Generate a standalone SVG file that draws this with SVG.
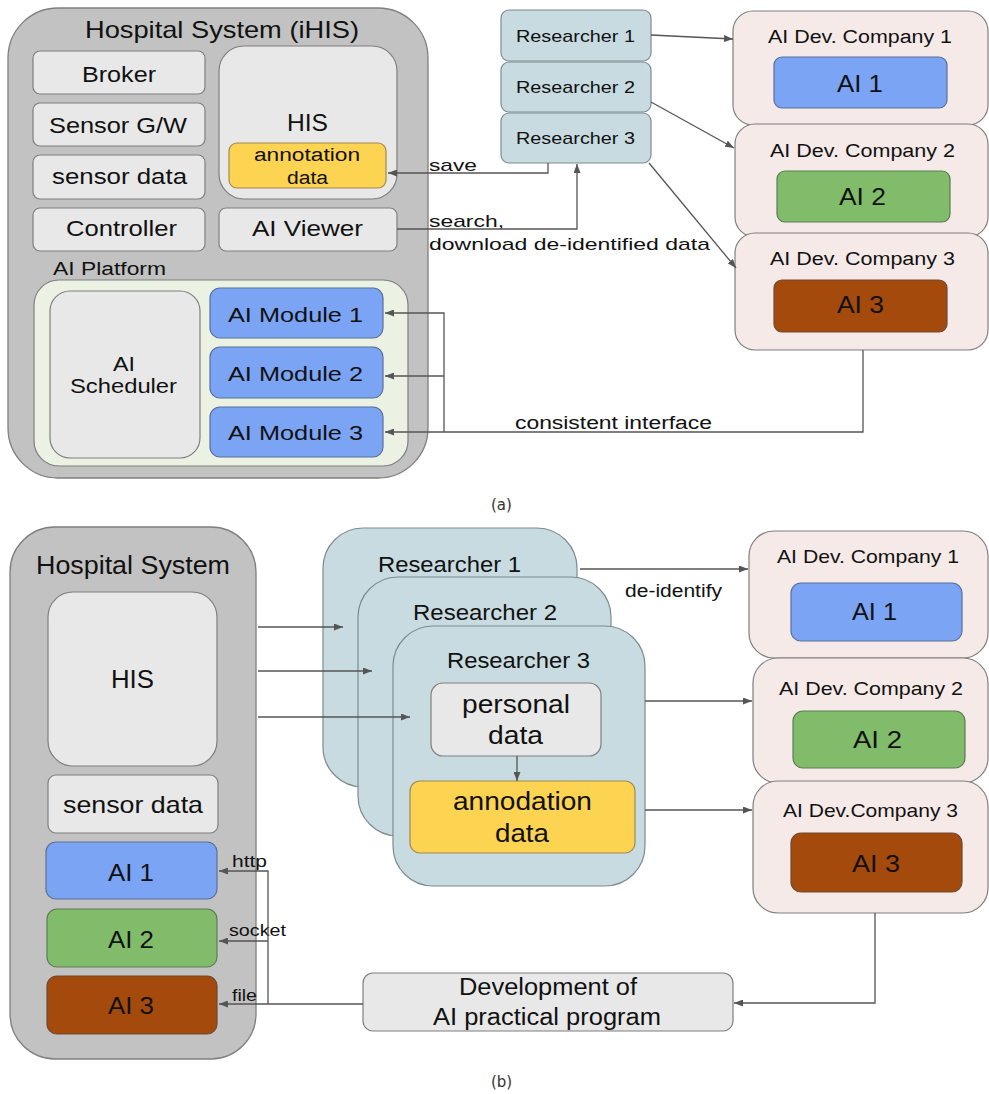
<svg xmlns="http://www.w3.org/2000/svg" width="989" height="1094" viewBox="0 0 989 1094">
<style>
.hs{fill:#c2c2c2;stroke:#7f7f7f;stroke-width:1.3}
.lt{fill:#e8e8e8;stroke:#7f7f7f;stroke-width:1.2}
.blue{fill:#7ba4f4;stroke:#5a6f9a;stroke-width:1.2}
.green{fill:#80bc6a;stroke:#5f7a55;stroke-width:1.2}
.brown{fill:#a34a0c;stroke:#6e4a30;stroke-width:1.2}
.yellow{fill:#fdd352;stroke:#a08a50;stroke-width:1.2}
.res{fill:#c8dbe0;stroke:#7d8b90;stroke-width:1.2}
.co{fill:#f5eae8;stroke:#7f7f7f;stroke-width:1.2}
.plat{fill:#ebf2e3;stroke:#7f7f7f;stroke-width:1.2}
text{font-family:"Liberation Sans",Arial,sans-serif;fill:#111}
.cap{font-family:"DejaVu Sans",sans-serif;font-size:15px;fill:#333}
.conn path{fill:none;stroke:#555;stroke-width:1.3}
</style>
<defs>
<marker id="ah" markerUnits="userSpaceOnUse" markerWidth="9" markerHeight="7" refX="9" refY="3.5" orient="auto">
<path d="M0,0 L9,3.5 L0,7 z" fill="#555"/>
</marker>
</defs>

<!-- (a) -->
<g id="a-hospital">
<rect class="hs" x="8" y="8" width="420" height="470" rx="50"/>
<text x="85" y="38" font-size="24" textLength="274" lengthAdjust="spacingAndGlyphs">Hospital System (iHIS)</text>
</g>
<g id="a-broker"><rect class="lt" x="33" y="51" width="172" height="43" rx="7"/><text x="82" y="82" font-size="22" textLength="74" lengthAdjust="spacingAndGlyphs">Broker</text></g>
<g id="a-sensorgw"><rect class="lt" x="33" y="103" width="172" height="43" rx="7"/><text x="49" y="133" font-size="22" textLength="138" lengthAdjust="spacingAndGlyphs">Sensor G/W</text></g>
<g id="a-sensordata"><rect class="lt" x="33" y="155" width="172" height="44" rx="7"/><text x="52" y="184" font-size="22" textLength="135" lengthAdjust="spacingAndGlyphs">sensor data</text></g>
<g id="a-controller"><rect class="lt" x="33" y="208" width="172" height="43" rx="7"/><text x="66" y="236" font-size="22" textLength="111" lengthAdjust="spacingAndGlyphs">Controller</text></g>
<g id="a-his"><rect class="lt" x="219" y="46" width="178" height="153" rx="25"/><text x="287" y="131" font-size="24" textLength="41" lengthAdjust="spacingAndGlyphs">HIS</text></g>
<g id="a-annotation"><rect class="yellow" x="229" y="143" width="157" height="45" rx="8"/><text x="254" y="161" font-size="18" textLength="106" lengthAdjust="spacingAndGlyphs">annotation</text><text x="287" y="184" font-size="18" textLength="41" lengthAdjust="spacingAndGlyphs">data</text></g>
<g id="a-viewer"><rect class="lt" x="219" y="208" width="178" height="43" rx="7"/><text x="252" y="236" font-size="22" textLength="111" lengthAdjust="spacingAndGlyphs">AI Viewer</text></g>
<g id="a-platform"><text x="53" y="275" font-size="18" textLength="113" lengthAdjust="spacingAndGlyphs">AI Platform</text><rect class="plat" x="34" y="280" width="374" height="186" rx="25"/></g>
<g id="a-scheduler"><rect class="lt" x="50" y="291" width="150" height="167" rx="20"/><text x="113" y="371" font-size="21" textLength="22" lengthAdjust="spacingAndGlyphs">AI</text><text x="70" y="393" font-size="21" textLength="107" lengthAdjust="spacingAndGlyphs">Scheduler</text></g>
<g id="a-module1"><rect class="blue" x="210" y="288" width="173" height="50" rx="10"/><text x="228" y="322" font-size="21" textLength="135" lengthAdjust="spacingAndGlyphs">AI Module 1</text></g>
<g id="a-module2"><rect class="blue" x="210" y="347" width="173" height="51" rx="10"/><text x="228" y="381" font-size="21" textLength="135" lengthAdjust="spacingAndGlyphs">AI Module 2</text></g>
<g id="a-module3"><rect class="blue" x="210" y="407" width="173" height="50" rx="10"/><text x="228" y="440" font-size="21" textLength="135" lengthAdjust="spacingAndGlyphs">AI Module 3</text></g>
<g id="a-res1"><rect class="res" x="501" y="10" width="150" height="51" rx="8"/><text x="516" y="42" font-size="17" textLength="119" lengthAdjust="spacingAndGlyphs">Researcher 1</text></g>
<g id="a-res2"><rect class="res" x="501" y="62" width="150" height="50" rx="8"/><text x="516" y="93" font-size="17" textLength="119" lengthAdjust="spacingAndGlyphs">Researcher 2</text></g>
<g id="a-res3"><rect class="res" x="501" y="113" width="150" height="50" rx="8"/><text x="516" y="144" font-size="17" textLength="119" lengthAdjust="spacingAndGlyphs">Researcher 3</text></g>
<g id="a-co1"><rect class="co" x="733" y="11" width="255" height="114" rx="20"/><text x="768" y="43" font-size="18" textLength="184" lengthAdjust="spacingAndGlyphs">AI Dev. Company 1</text><rect class="blue" x="774" y="57" width="173" height="51" rx="8"/><text x="837" y="92" font-size="24" textLength="46" lengthAdjust="spacingAndGlyphs">AI 1</text></g>
<g id="a-co2"><rect class="co" x="735" y="124" width="253" height="113" rx="20"/><text x="770" y="157" font-size="18" textLength="185" lengthAdjust="spacingAndGlyphs">AI Dev. Company 2</text><rect class="green" x="777" y="171" width="173" height="51" rx="8"/><text x="839" y="205" font-size="24" textLength="47" lengthAdjust="spacingAndGlyphs">AI 2</text></g>
<g id="a-co3"><rect class="co" x="735" y="233" width="253" height="117" rx="20"/><text x="770" y="265" font-size="18" textLength="185" lengthAdjust="spacingAndGlyphs">AI Dev. Company 3</text><rect class="brown" x="774" y="280" width="173" height="52" rx="8"/><text x="837" y="313" font-size="24" textLength="47" lengthAdjust="spacingAndGlyphs">AI 3</text></g>
<g id="a-labels">
<text x="429" y="171" font-size="17" textLength="48" lengthAdjust="spacingAndGlyphs">save</text>
<text x="429" y="227" font-size="17" textLength="75" lengthAdjust="spacingAndGlyphs">search,</text>
<text x="429" y="250" font-size="17" textLength="281" lengthAdjust="spacingAndGlyphs">download de-identified data</text>
<text x="515" y="429" font-size="18" textLength="197" lengthAdjust="spacingAndGlyphs">consistent interface</text>
<text class="cap" x="491" y="510">(a)</text>
</g>

<!-- (b) -->
<g id="b-hospital"><rect class="hs" x="10" y="527" width="246" height="532" rx="45"/><text x="36" y="574" font-size="25" textLength="194" lengthAdjust="spacingAndGlyphs">Hospital System</text></g>
<g id="b-his"><rect class="lt" x="48" y="592" width="169" height="174" rx="25"/><text x="111" y="688" font-size="25" textLength="43" lengthAdjust="spacingAndGlyphs">HIS</text></g>
<g id="b-sensordata"><rect class="lt" x="48" y="775" width="170" height="58" rx="8"/><text x="63" y="813" font-size="24" textLength="140" lengthAdjust="spacingAndGlyphs">sensor data</text></g>
<g id="b-ai1"><rect class="blue" x="46" y="842" width="171" height="57" rx="10"/><text x="108" y="881" font-size="24" textLength="46" lengthAdjust="spacingAndGlyphs">AI 1</text></g>
<g id="b-ai2"><rect class="green" x="47" y="909" width="170" height="58" rx="10"/><text x="108" y="948" font-size="24" textLength="46" lengthAdjust="spacingAndGlyphs">AI 2</text></g>
<g id="b-ai3"><rect class="brown" x="47" y="976" width="170" height="58" rx="10"/><text x="108" y="1014" font-size="24" textLength="46" lengthAdjust="spacingAndGlyphs">AI 3</text></g>
<g id="b-res1"><rect class="res" x="323" y="528" width="254" height="259" rx="40"/><text x="378" y="572" font-size="22" textLength="143" lengthAdjust="spacingAndGlyphs">Researcher 1</text></g>
<g id="b-res2"><rect class="res" x="358" y="577" width="253" height="259" rx="40"/><text x="413" y="620" font-size="22" textLength="144" lengthAdjust="spacingAndGlyphs">Researcher 2</text></g>
<g id="b-res3"><rect class="res" x="393" y="626" width="252" height="260" rx="40"/><text x="447" y="668" font-size="22" textLength="143" lengthAdjust="spacingAndGlyphs">Researcher 3</text></g>
<g id="b-personal"><rect class="lt" x="431" y="683" width="170" height="73" rx="12"/><text x="462" y="713" font-size="26" textLength="108" lengthAdjust="spacingAndGlyphs">personal</text><text x="488" y="744" font-size="26" textLength="55" lengthAdjust="spacingAndGlyphs">data</text></g>
<g id="b-annodation"><rect class="yellow" x="410" y="781" width="225" height="72" rx="10"/><text x="453" y="810" font-size="26" textLength="139" lengthAdjust="spacingAndGlyphs">annodation</text><text x="495" y="842" font-size="26" textLength="54" lengthAdjust="spacingAndGlyphs">data</text></g>
<g id="b-co1"><rect class="co" x="749" y="531" width="239" height="127" rx="25"/><text x="777" y="563" font-size="19" textLength="182" lengthAdjust="spacingAndGlyphs">AI Dev. Company 1</text><rect class="blue" x="791" y="583" width="171" height="58" rx="10"/><text x="852" y="620" font-size="24" textLength="45" lengthAdjust="spacingAndGlyphs">AI 1</text></g>
<g id="b-co2"><rect class="co" x="753" y="658" width="235" height="125" rx="25"/><text x="779" y="695" font-size="19" textLength="184" lengthAdjust="spacingAndGlyphs">AI Dev. Company 2</text><rect class="green" x="793" y="711" width="172" height="57" rx="10"/><text x="853" y="748" font-size="24" textLength="49" lengthAdjust="spacingAndGlyphs">AI 2</text></g>
<g id="b-co3"><rect class="co" x="753" y="781" width="235" height="132" rx="25"/><text x="783" y="817" font-size="19" textLength="175" lengthAdjust="spacingAndGlyphs">AI Dev.Company 3</text><rect class="brown" x="791" y="833" width="171" height="59" rx="10"/><text x="852" y="872" font-size="24" textLength="48" lengthAdjust="spacingAndGlyphs">AI 3</text></g>
<g id="b-dev"><rect class="lt" x="363" y="973" width="370" height="58" rx="10"/><text x="459" y="995" font-size="23" textLength="178" lengthAdjust="spacingAndGlyphs">Development of</text><text x="433" y="1025" font-size="23" textLength="228" lengthAdjust="spacingAndGlyphs">AI practical program</text></g>
<g id="b-labels">
<text x="625" y="597" font-size="18" textLength="97" lengthAdjust="spacingAndGlyphs">de-identify</text>
<text x="232" y="867" font-size="17" textLength="35" lengthAdjust="spacingAndGlyphs">http</text>
<text x="229" y="936" font-size="17" textLength="57" lengthAdjust="spacingAndGlyphs">socket</text>
<text x="232" y="1001" font-size="17" textLength="25" lengthAdjust="spacingAndGlyphs">file</text>
<text class="cap" x="491" y="1087">(b)</text>
</g>

<g id="connectors" class="conn">
<path d="M548,163 V173 H388" marker-end="url(#ah)"/>
<path d="M397,229 H577 V164" marker-end="url(#ah)"/>
<path d="M651,35 L733,39" marker-end="url(#ah)"/>
<path d="M651,102 L734,148" marker-end="url(#ah)"/>
<path d="M649,163 L736,268" marker-end="url(#ah)"/>
<path d="M863,350 V432 H385" marker-end="url(#ah)"/>
<path d="M444,432 V313 H385" marker-end="url(#ah)"/>
<path d="M444,376 H385" marker-end="url(#ah)"/>
<path d="M258,627 H343" marker-end="url(#ah)"/>
<path d="M258,671 H372" marker-end="url(#ah)"/>
<path d="M258,717 H410" marker-end="url(#ah)"/>
<path d="M517,756 V781" marker-end="url(#ah)"/>
<path d="M580,569 H748" marker-end="url(#ah)"/>
<path d="M645,701 H752" marker-end="url(#ah)"/>
<path d="M645,810 H752" marker-end="url(#ah)"/>
<path d="M875,913 V1003 H734" marker-end="url(#ah)"/>
<path d="M363,1004 H219" marker-end="url(#ah)"/>
<path d="M268,1004 V871 H219" marker-end="url(#ah)"/>
<path d="M268,941 H219" marker-end="url(#ah)"/>
</g>
</svg>
